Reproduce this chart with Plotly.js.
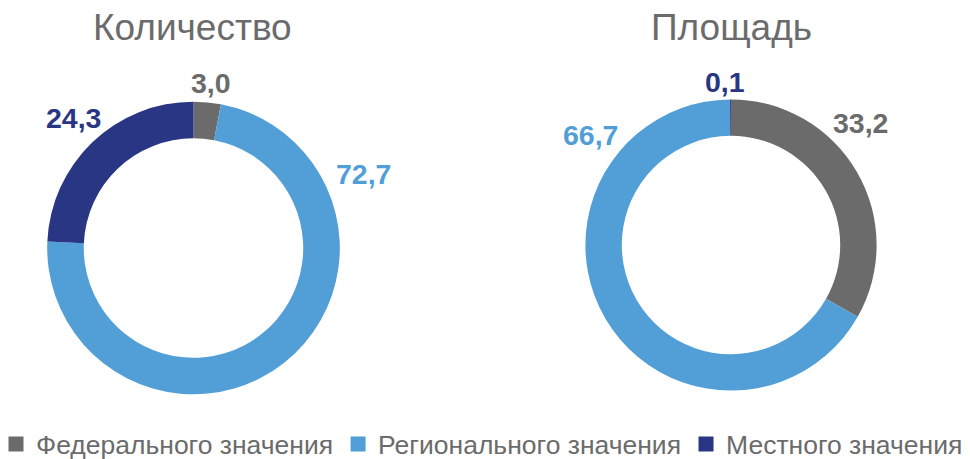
<!DOCTYPE html>
<html>
<head>
<meta charset="utf-8">
<script src="https://cdn.plot.ly/plotly-3.0.1.min.js"></script>
<style>html,body{margin:0;padding:0;background:#fff}#chart{width:970px;height:459px}</style>
</head>
<body>
<div id="chart"></div>
<script>
// ---- data ----
const categories = ['Федерального значения', 'Регионального значения', 'Местного значения'];
const colors = ['#6b6b6b', '#529fd7', '#283684'];
const countValues = [3.0, 72.7, 24.3];
const areaValues = [33.2, 66.7, 0.1];
const chartTitles = ['Количество', 'Площадь'];

const fmt = v => v.toFixed(1).replace('.', ',');
const W = 970, H = 459;
const px = x => x / W;
const py = y => 1 - y / H;
const FONT = 'Liberation Sans, Arial, sans-serif';

const common = {
  type: 'pie',
  labels: categories,
  marker: {colors: colors, line: {width: 0}},
  hole: 0.75,
  sort: false,
  direction: 'clockwise',
  rotation: 0,
  textinfo: 'none',
  hoverinfo: 'label+value',
  showlegend: false
};

const traces = [
  Object.assign({}, common, {
    values: countValues,
    name: chartTitles[0],
    domain: {x: [px(47.2), px(339.8)], y: [py(394.3), py(101.7)]}
  }),
  Object.assign({}, common, {
    values: areaValues,
    name: chartTitles[1],
    domain: {x: [px(585.4), px(876.6)], y: [py(390.6), py(99.4)]}
  })
];

// legend entries (square swatches, one per category)
categories.forEach((c, i) => {
  traces.push({
    type: 'scatter', mode: 'markers',
    x: [null], y: [null],
    name: c,
    marker: {symbol: 'square', size: 15, color: colors[i]},
    showlegend: true, hoverinfo: 'skip'
  });
});

// label positions (label placement only)
const countLabelPos = [[211, 83], [363.5, 173.5], [73.5, 118]];
const areaLabelPos = [[860.5, 123], [590, 135], [725, 82]];

const annotations = [];
[[countValues, countLabelPos], [areaValues, areaLabelPos]].forEach(([vals, pos]) => {
  vals.forEach((v, i) => {
    annotations.push({
      xref: 'paper', yref: 'paper',
      x: px(pos[i][0]), y: py(pos[i][1]),
      xanchor: 'center', yanchor: 'middle',
      text: '<b>' + fmt(v) + '</b>',
      showarrow: false,
      font: {family: FONT, size: 28.5, color: colors[i]}
    });
  });
});
[[192, chartTitles[0]], [731, chartTitles[1]]].forEach(([x, t]) => {
  annotations.push({
    xref: 'paper', yref: 'paper', x: px(x), y: py(27),
    xanchor: 'center', yanchor: 'middle', text: t, showarrow: false,
    font: {family: FONT, size: 37, color: '#6b6b6b'}
  });
});

const layout = {
  width: W, height: H,
  margin: {l: 0, r: 0, t: 0, b: 0, autoexpand: false},
  paper_bgcolor: '#ffffff',
  plot_bgcolor: 'rgba(0,0,0,0)',
  xaxis: {visible: false, range: [0, 1], fixedrange: true},
  yaxis: {visible: false, range: [0, 1], fixedrange: true},
  showlegend: true,
  legend: {
    orientation: 'h',
    x: px(-4), xanchor: 'left',
    y: -0.02, yanchor: 'bottom',
    bgcolor: 'rgba(0,0,0,0)',
    font: {family: FONT, size: 26.5, color: '#6b6b6b'},
    traceorder: 'normal'
  },
  annotations: annotations
};

Plotly.newPlot('chart', traces, layout, {displayModeBar: false, staticPlot: true});
</script>
</body>
</html>
